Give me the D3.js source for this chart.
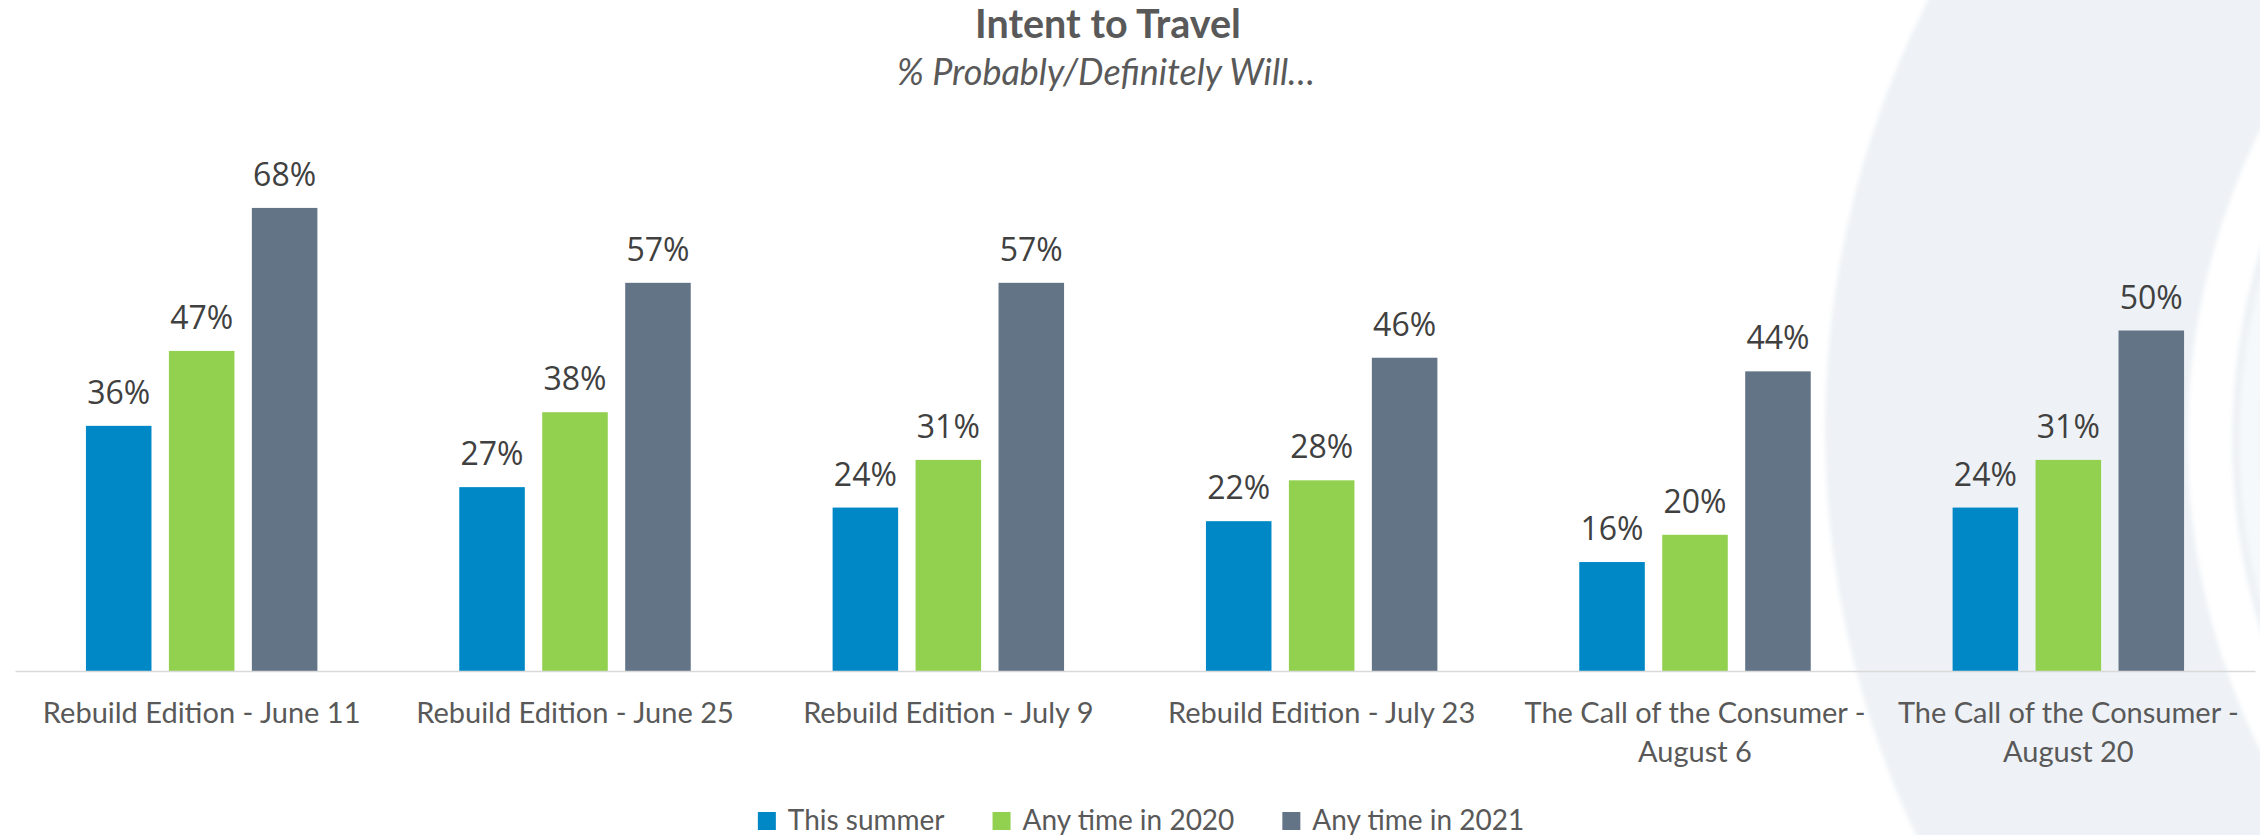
<!DOCTYPE html>
<html>
<head>
<meta charset="utf-8">
<script src="https://cdn.jsdelivr.net/npm/d3@7/dist/d3.min.js"></script>
<style>
  html, body { margin: 0; padding: 0; background: #ffffff; }
  svg { display: block; }
</style>
</head>
<body>
<svg id="chart" width="2260" height="835"></svg>
<script>
// Survey waves shown along the x axis
const categories = [
  "Rebuild Edition - June 11",
  "Rebuild Edition - June 25",
  "Rebuild Edition - July 9",
  "Rebuild Edition - July 23",
  "The Call of the Consumer - August 6",
  "The Call of the Consumer - August 20"
];

// Series names (legend order)
const seriesNames = ["This summer", "Any time in 2020", "Any time in 2021"];

// Share answering probably/definitely will, per wave
const thisSummer = [0.36, 0.27, 0.24, 0.22, 0.16, 0.24];
const anyTime2020 = [0.47, 0.38, 0.31, 0.28, 0.20, 0.31];
const anyTime2021 = [0.68, 0.57, 0.57, 0.46, 0.44, 0.50];

const seriesColors = ["#0088c6", "#92d050", "#637487"];

const titleText = "Intent to Travel";
const subtitleText = "% Probably/Definitely Will…";

const seriesValues = [thisSummer, anyTime2020, anyTime2021];
const rows = categories.map((c, i) => ({
  category: c,
  values: seriesNames.map((s, j) => ({ series: s, value: seriesValues[j][i] }))
}));

const W = 2260, H = 835;
const svg = d3.select("#chart");

// Decorative backdrop: soft circles on the right-hand side
const defs = svg.append("defs");
defs.append("filter").attr("id", "soft")
  .append("feGaussianBlur").attr("stdDeviation", 2);
defs.append("clipPath").attr("id", "page")
  .append("rect").attr("width", W).attr("height", H);

const bg = svg.append("g").attr("clip-path", "url(#page)").attr("filter", "url(#soft)");
bg.append("circle").attr("cx", 2774).attr("cy", 430).attr("r", 949).attr("fill", "#eef2f6");
bg.append("circle").attr("cx", 2890).attr("cy", 440).attr("r", 680)
  .attr("fill", "none").attr("stroke", "#ffffff").attr("stroke-width", 44);
bg.append("circle").attr("cx", 2890).attr("cy", 440).attr("r", 640)
  .attr("fill", "none").attr("stroke", "#f6f9fb").attr("stroke-width", 20);

// Scales
const baseY = 671;
const x0 = d3.scaleBand()
  .domain(categories)
  .range([15, 2255])
  .paddingInner(0.38)
  .paddingOuter(0.19);

const x1 = d3.scaleBand()
  .domain(seriesNames)
  .range([0, x0.bandwidth()])
  .paddingInner(0.21);

const y = d3.scaleLinear()
  .domain([0, 0.8])
  .range([baseY, baseY - 0.8 * 681]);

const color = d3.scaleOrdinal().domain(seriesNames).range(seriesColors);

// Bars
const groups = svg.append("g").selectAll("g")
  .data(rows)
  .join("g")
  .attr("transform", d => `translate(${x0(d.category)},0)`);

groups.selectAll("rect")
  .data(d => d.values)
  .join("rect")
  .attr("x", d => x1(d.series))
  .attr("y", d => y(d.value))
  .attr("width", x1.bandwidth())
  .attr("height", d => y(0) - y(d.value))
  .attr("fill", d => color(d.series));

// Value labels
groups.selectAll("text")
  .data(d => d.values)
  .join("text")
  .attr("x", d => x1(d.series) + x1.bandwidth() / 2)
  .attr("y", d => y(d.value) - 22)
  .attr("text-anchor", "middle")
  .attr("font-family", "'Open Sans', sans-serif")
  .attr("font-size", 32)
  .attr("fill", "#404040")
  .text(d => d3.format(".0%")(d.value));

// Category axis
const axis = svg.append("g")
  .attr("transform", `translate(0,${baseY})`)
  .call(d3.axisBottom(x0).tickSize(0).tickSizeOuter(0));

axis.select(".domain")
  .attr("stroke", "#d9d9d9")
  .attr("stroke-width", 1.6);

axis.selectAll(".tick text")
  .attr("font-family", "Lato, sans-serif")
  .attr("font-size", 29)
  .attr("fill", "#595959")
  .attr("y", 0)
  .attr("dy", 0)
  .each(function (d) {
    const text = d3.select(this);
    const words = d.split(" ");
    const maxW = x0.step() - 8;
    text.text(null);
    let lines = [];
    let line = [];
    const probe = text.append("tspan");
    words.forEach(w => {
      line.push(w);
      probe.text(line.join(" "));
      if (probe.node().getComputedTextLength() > maxW && line.length > 1) {
        line.pop();
        lines.push(line.join(" "));
        line = [w];
      }
    });
    lines.push(line.join(" "));
    probe.remove();
    lines.forEach((l, i) => {
      text.append("tspan").attr("x", 0).attr("y", 52 + i * 39).text(l);
    });
  });

// Title and subtitle
svg.append("text")
  .attr("x", 1108).attr("y", 38)
  .attr("text-anchor", "middle")
  .attr("font-family", "Lato, sans-serif")
  .attr("font-weight", "bold")
  .attr("font-size", 39.5)
  .attr("fill", "#595959")
  .text(titleText);

svg.append("text")
  .attr("x", 1106).attr("y", 85)
  .attr("text-anchor", "middle")
  .attr("font-family", "Lato, sans-serif")
  .attr("font-style", "italic")
  .attr("font-size", 36)
  .attr("fill", "#595959")
  .text(subtitleText);

// Legend
const legend = svg.append("g");
const items = legend.selectAll("g")
  .data(seriesNames)
  .join("g");
items.append("rect")
  .attr("width", 18).attr("height", 18)
  .attr("y", 812)
  .attr("fill", d => color(d));
items.append("text")
  .attr("x", 30).attr("y", 830)
  .attr("font-family", "Lato, sans-serif")
  .attr("font-size", 28)
  .attr("fill", "#595959")
  .text(d => d);

const widths = [];
items.each(function () {
  const w = 30 + d3.select(this).select("text").node().getComputedTextLength();
  widths.push(w);
});
const gapLegend = 48;
const total = d3.sum(widths) + gapLegend * (widths.length - 1);
let start = 1141 - total / 2;
items.attr("transform", (d, i) => {
  const tx = start;
  start += widths[i] + gapLegend;
  return `translate(${tx},0)`;
});
</script>
</body>
</html>
